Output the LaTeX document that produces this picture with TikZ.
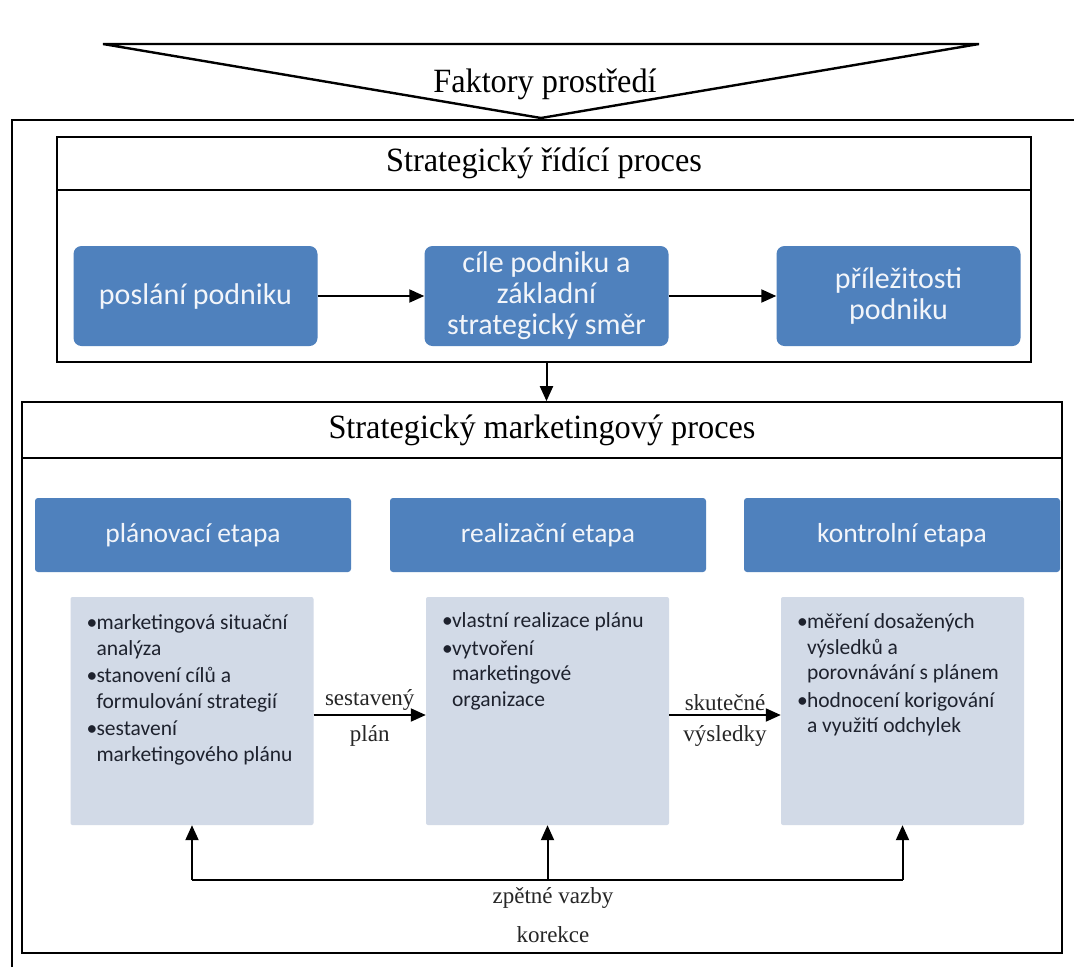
\documentclass[tikz,border=0pt]{standalone}
\usepackage{fontspec}
\setmainfont{Liberation Serif}
\newfontfamily\calibri{Carlito}
\newfontfamily\titlefont[FakeStretch=0.95]{Liberation Serif}
\usetikzlibrary{arrows.meta}
\definecolor{officeblue}{HTML}{4F81BD}
\definecolor{paleblue}{HTML}{D2DAE7}
\definecolor{bullettext}{HTML}{1E222E}
\definecolor{boxtext}{HTML}{F2F5FA}
\newcommand\bul{\makebox[10pt][l]{\textbullet}}
\newcommand\cont{\hspace*{10pt}}

\tikzset{
  boxframe/.style={draw=black, line width=1.7pt, fill=white},
  sectitle/.style={boxframe, font=\titlefont\fontsize{34}{40}\selectfont},
  toprow/.style={fill=officeblue, rounded corners=8pt, text=boxtext,
    font=\calibri\fontsize{30}{31}\selectfont, align=center,
    minimum width=244pt, minimum height=100pt, inner sep=4pt},
  phase/.style={fill=officeblue, rounded corners=3pt, text=boxtext,
    font=\calibri\fontsize{27.5}{30}\selectfont,
    minimum width=316pt, minimum height=74pt},
  panel/.style={fill=paleblue, rounded corners=2pt,
    minimum width=243pt, minimum height=228pt},
  bullets/.style={anchor=north west, inner sep=0pt, align=left,
    text=bullettext, font=\calibri\fontsize{21.5}{25.5}\selectfont},
  arr/.style={line width=2pt, -{Triangle[length=15pt,width=13pt]}},
  lbl/.style={font=\fontsize{23}{26}\selectfont, text=black!85},
}

\begin{document}
\begin{tikzpicture}[x=1pt,y=-1pt]
\useasboundingbox (0,0) rectangle (1074,967);

% outer frame (open to the right and bottom)
\draw[line width=1.7pt] (12,967) -- (12,120) -- (1074,120);

% environment funnel
\draw[line width=2.4pt, fill=white] (103,44) -- (979,44) -- (541,118) -- cycle;
\node[font=\titlefont\fontsize{34}{38}\selectfont] (env) at (545,84) {Faktory prostředí};

% strategic management process
\node[sectitle, minimum width=974pt, minimum height=53pt] (srptitle) at (544,163.5) {Strategický řídící proces};
\node[boxframe, minimum width=974pt, minimum height=172pt] (srpbody) at (544,276) {};

\node[toprow] (mise) at (195.5,296) {poslání podniku};
\node[toprow] (cile) at (546.5,296) {cíle podniku a\\základní\\strategický směr};
\node[toprow] (prilez) at (898.5,296) {příležitosti\\podniku};

\draw[arr] (mise) -- (cile);
\draw[arr] (cile) -- (prilez);

% strategic marketing process
\node[sectitle, minimum width=1040pt, minimum height=56pt] (smptitle) at (542,430) {Strategický marketingový proces};
\node[boxframe, minimum width=1040pt, minimum height=495pt] (smpbody) at (542,705.5) {};

\draw[arr] (srpbody.south -| cile) -- (smptitle.north -| cile);

\node[phase] (hplan) at (193,535) {plánovací etapa};
\node[phase] (hreal) at (548,535) {realizační etapa};
\node[phase] (hkontr) at (902,535) {kontrolní etapa};

\node[panel] (plan) at (192,711) {};
\node[panel] (real) at (547.5,711) {};
\node[panel] (kontr) at (902.5,711) {};

\node[bullets] (plantext) at ([xshift=16pt,yshift=-18pt]plan.north west)
  {\bul marketingová situační\\ \cont analýza\\[2pt]
   \bul stanovení cílů a\\ \cont formulování strategií\\[2pt]
   \bul sestavení\\ \cont marketingového plánu};
\node[bullets] (realtext) at ([xshift=16pt,yshift=-16pt]real.north west)
  {\bul vlastní realizace plánu\\[2pt]
   \bul vytvoření\\ \cont marketingové\\ \cont organizace};
\node[bullets] (kontrtext) at ([xshift=16pt,yshift=-17pt]kontr.north west)
  {\bul měření dosažených\\ \cont výsledků a\\ \cont porovnávání s plánem\\[2pt]
   \bul hodnocení korigování\\ \cont a využití odchylek};

\draw[arr] ([yshift=-4pt]plan.east) -- node[lbl, above=0pt] (lsest) {sestavený}
  node[lbl, below=6pt] (lplan) {plán} ([yshift=-4pt]real.west);
\draw[arr] ([yshift=-4pt]real.east) -- node[lbl, above=0pt] (lskut) {skutečné}
  node[lbl, below=6pt] (lvysl) {výsledky} ([yshift=-4pt]kontr.west);

% feedback loop
\coordinate (fbL) at (plan.south |- 0,880);
\coordinate (fbM) at (real.south |- 0,880);
\coordinate (fbR) at (kontr.south |- 0,880);
\draw[line width=2pt] (fbL) -- (fbR);
\draw[arr] (fbL) -- (plan.south);
\draw[arr] (fbM) -- (real.south);
\draw[arr] (fbR) -- (kontr.south);

\node[lbl] (zv) at (553,898) {zpětné vazby};
\node[lbl] (kor) at (553,935) {korekce};
\end{tikzpicture}
\end{document}
